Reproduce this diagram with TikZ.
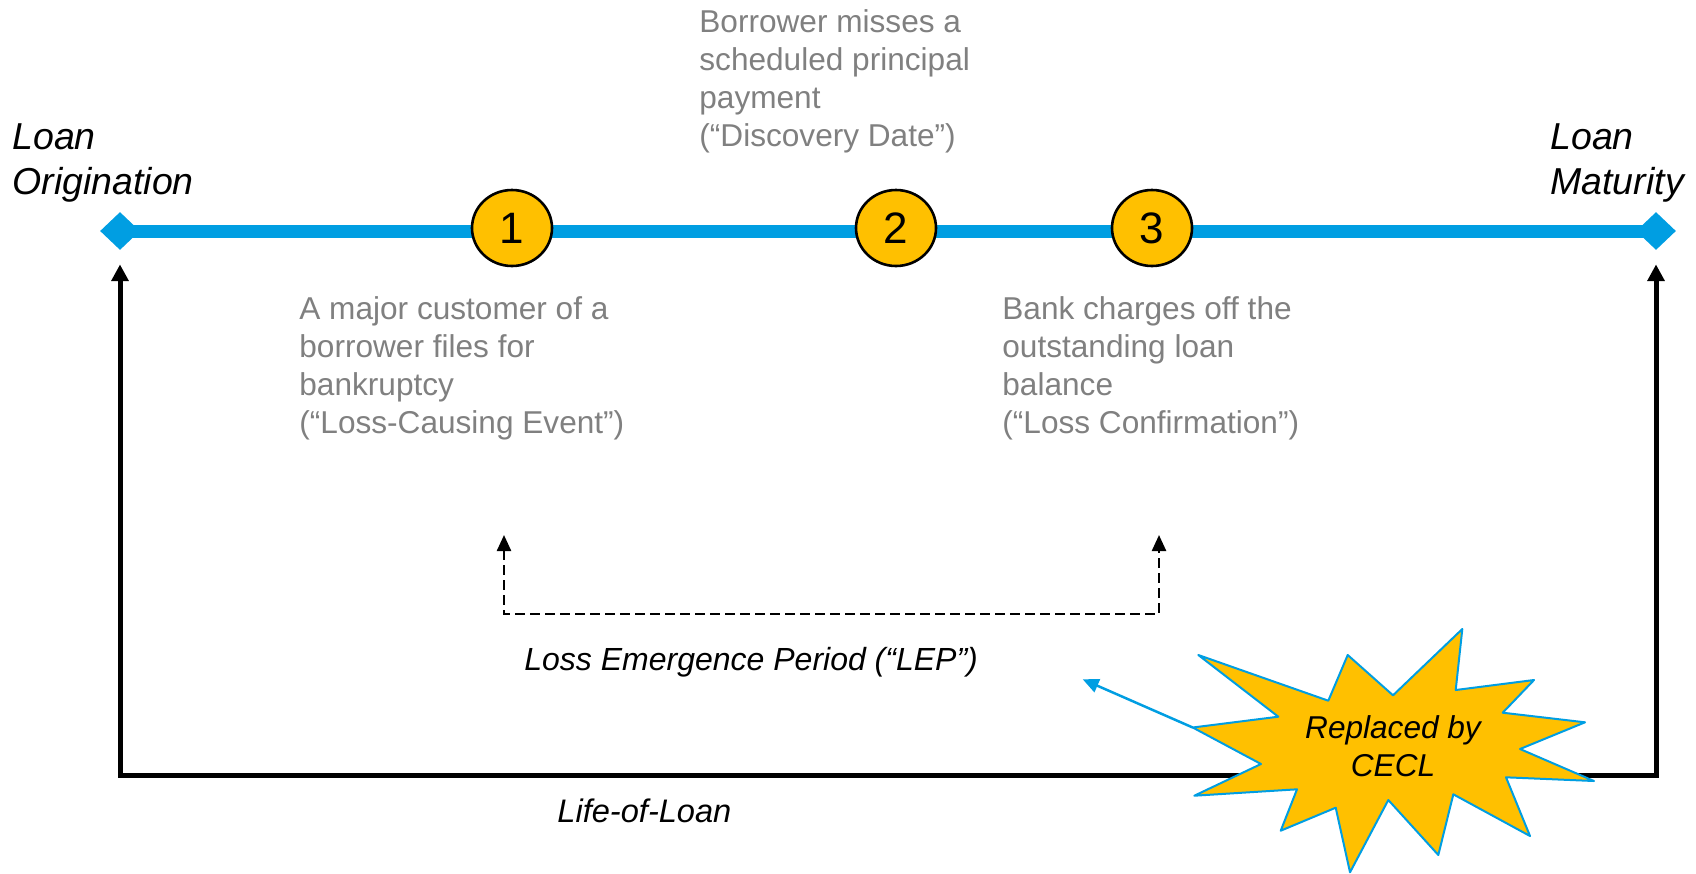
\documentclass[tikz,border=0pt]{standalone}
\usepackage{fontspec}
\setmainfont{Liberation Sans}
\usetikzlibrary{shapes.geometric,arrows.meta}
\definecolor{lineblue}{RGB}{0,158,226}
\definecolor{markgold}{RGB}{255,192,0}
\definecolor{notegray}{RGB}{128,128,128}

\begin{document}
\begin{tikzpicture}[x=0.5pt,y=-0.5pt,
  loltip/.tip={Triangle[length=8.3pt,width=8.3pt]},
  leptip/.tip={Triangle[length=8pt,width=7pt]},
  endpoint/.style={diamond,fill=lineblue,inner sep=0pt,minimum width=20pt,minimum height=19pt},
  eventmark/.style={ellipse,draw=black,line width=1.3pt,fill=markgold,inner sep=0pt,
    minimum width=40pt,minimum height=38pt,font=\fontsize{22}{26}\selectfont},
  notetext/.style={anchor=north west,inner sep=0pt,align=left,text=notegray,
    font=\fontsize{15.8}{19}\selectfont},
  endlabel/.style={anchor=north west,inner sep=0pt,align=left,
    font=\fontsize{18.75}{22.5}\selectfont\itshape},
  spanlabel/.style={anchor=base west,inner sep=0pt,font=\fontsize{16}{19}\selectfont\itshape},
  lolarrow/.style={line width=2.5pt,loltip-loltip},
  leparrow/.style={line width=1.2pt,dash pattern=on 4.75pt off 2.75pt,leptip-leptip},
  burst/.style={fill=markgold,draw=lineblue,line width=1pt,line join=round},
]
\useasboundingbox (0,0) rectangle (1696,873);

% timeline end points and the line between them
\node[endpoint] (orig) at (120,231) {};
\node[endpoint] (mat) at (1656,231) {};
\draw[lineblue,line width=6.5pt] (orig.center) -- (mat.center);

% events on the timeline
\node[eventmark] (ev1) at (512,228) {1};
\node[eventmark] (ev2) at (896,228) {2};
\node[eventmark] (ev3) at (1152,228) {3};

% end labels
\node[endlabel] (origlbl) at (12,123) {Loan\\Origination};
\node[endlabel] (matlbl) at (1550,123) {Loan\\Maturity};

% event descriptions
\node[notetext] (disc) at (699,9) {Borrower misses a\\scheduled principal\\payment\\(“Discovery Date”)};
\node[notetext] (cause) at (299,296) {A major customer of a\\borrower files for\\bankruptcy\\(“Loss-Causing Event”)};
\node[notetext] (confirm) at (1002,296) {Bank charges off the\\outstanding loan\\balance\\(“Loss Confirmation”)};

% loss emergence period bracket
\coordinate (lepA) at (504,535);
\coordinate (lepB) at (1159,535);
\coordinate (lepC) at (1159,614);
\draw[leparrow] (lepA) |- (lepC) -- (lepB);
\node[spanlabel] (leplbl) at (524,670) {Loss Emergence Period (“LEP”)};

% life-of-loan bracket
\coordinate (lolR) at (1656,775);
\draw[lolarrow] ([yshift=-7pt]orig.south) |- (lolR) -- ([yshift=-7pt]mat.south);
\node[spanlabel,font=\fontsize{16.3}{19}\selectfont\itshape] (lollbl) at (557,822) {Life-of-Loan};

% starburst callout
\coordinate (burstTip) at (1192.7,727.5);
\coordinate (lepPoint) at (1082.7,679.3);
\draw[burst] (1462.3,629) -- (1455.7,690) -- (1534,680) -- (1502.7,712.7)
  -- (1585,722.3) -- (1520,749) -- (1594,781) -- (1506,777.3)
  -- (1530,836) -- (1453.3,794.3) -- (1438.3,855) -- (1388.3,800)
  -- (1350,872.3) -- (1335.7,807.7) -- (1280.7,830.7) -- (1297,789.3)
  -- (1194.3,795.7) -- (1261,764) -- (burstTip) -- (1278.3,716.7)
  -- (1198.3,655) -- (1328.3,700.7) -- (1347.7,655) -- (1393,695.3) -- cycle;
\node[anchor=north,inner sep=0pt,align=center,font=\fontsize{15.8}{19}\selectfont\itshape]
  (cecl) at (1393,715) {Replaced by\\CECL};
\draw[lineblue,line width=1.25pt,-leptip] (burstTip) -- (lepPoint);

\end{tikzpicture}
\end{document}
